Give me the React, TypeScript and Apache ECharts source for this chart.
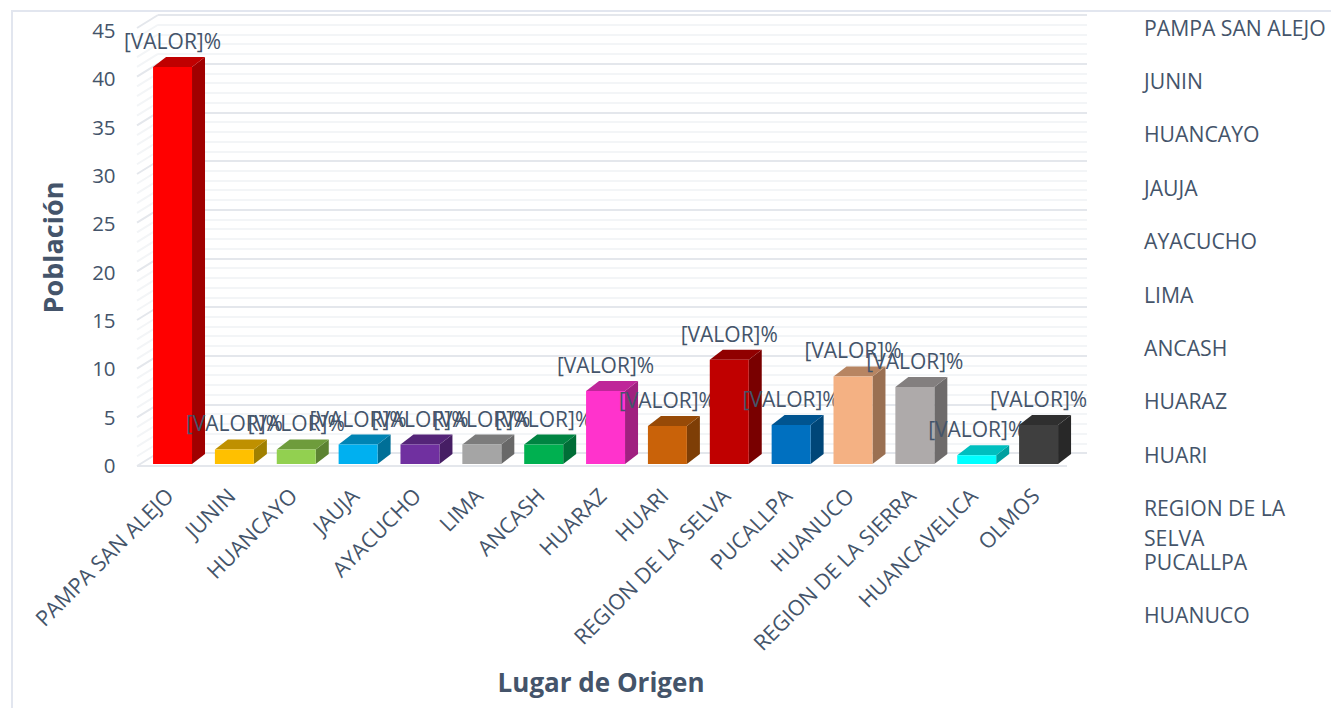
import React, { useEffect, useRef } from "react";
import * as echarts from "echarts";

const categories = ["PAMPA SAN ALEJO","JUNIN","HUANCAYO","JAUJA","AYACUCHO","LIMA","ANCASH","HUARAZ","HUARI","REGION DE LA SELVA","PUCALLPA","HUANUCO","REGION DE LA SIERRA","HUANCAVELICA","OLMOS"];
const values = [40.8,1.5,1.5,2,2,2,2,7.5,3.9,10.7,4,9,7.9,0.9,4];
const frontColors = ["#ff0000","#ffc000","#92d050","#00b0f0","#7030a0","#a5a5a5","#00b050","#ff33cc","#c96209","#c00000","#0070c0","#f4b183","#aeaaaa","#00ffff","#3f3f3f"];
const topColors = ["#c00000","#bf9000","#6e9c3c","#0084b4","#542478","#7c7c7c","#008442","#bf2699","#974a07","#900000","#005490","#b78562","#837f7f","#00bfbf","#2f2f2f"];
const sideColors = ["#a00000","#a08000","#5c8332","#006f97","#461e64","#686868","#006e37","#a02080","#7e3e06","#790000","#004678","#9a7052","#6e6b6b","#00a0a0","#282828"];
const valueLabel = "[VALOR]%";
const legendRows = [["PAMPA SAN ALEJO"],["JUNIN"],["HUANCAYO"],["JAUJA"],["AYACUCHO"],["LIMA"],["ANCASH"],["HUARAZ"],["HUARI"],["REGION DE LA","SELVA"],["PUCALLPA"],["HUANUCO"]];
const wallTicks = Array.from({ length: 46 }, (_, i) => i);

const FONT = '"Open Sans"';
const INK = "#44546a";
const MAJOR = "#e4e7ec";
const MINOR = "#f3f5f7";

function renderBar(_: any, api: any) {
  const i = api.value(0);
  const [cx, yTop] = api.coord([i, api.value(1)]);
  const [, yBase] = api.coord([i, 0]);
  const w = api.size([1, 0])[0] * 0.63;
  const l = cx - w / 2, r = cx + w / 2;
  const dx = 13, dy = 10;
  return {
    type: "group",
    children: [
      { type: "polygon", shape: { points: [[r, yTop], [r + dx, yTop - dy], [r + dx, yBase - dy], [r, yBase]] }, style: { fill: sideColors[i] } },
      { type: "polygon", shape: { points: [[l, yTop], [l + dx, yTop - dy], [r + dx, yTop - dy], [r, yTop]] }, style: { fill: topColors[i] } },
      { type: "rect", shape: { x: l, y: yTop, width: w, height: yBase - yTop }, style: { fill: frontColors[i] } },
      { type: "text", style: { text: valueLabel, x: cx, y: yTop - 26, align: "center", verticalAlign: "middle", fill: INK, fontSize: 21, fontFamily: FONT } },
    ],
  };
}

function renderWallLine(_: any, api: any) {
  const v = api.value(0);
  const [x, y] = api.coord([0, v]);
  return {
    type: "line",
    shape: { x1: x, y1: y, x2: x - 21, y2: y + 13 },
    style: { stroke: v % 5 === 0 ? MAJOR : MINOR, lineWidth: 2 },
  };
}

export default function App() {
  const ref = useRef<HTMLDivElement>(null);
  useEffect(() => {
    document.body.style.margin = "0";
    const chart = echarts.init(ref.current!, undefined, { renderer: "svg" });
    chart.setOption({
      animation: false,
      backgroundColor: "#ffffff",
      textStyle: { fontFamily: FONT },
      grid: [
        { left: 141.6, width: 927.9, top: 26, height: 438 },
        { left: 158, width: 929, top: 15, height: 438 },
        { left: 141.6, width: 927.9, top: 30, height: 435 },
      ],
      xAxis: [
        {
          type: "category", gridIndex: 0, data: categories,
          axisLine: { show: false }, axisTick: { show: false },
          axisLabel: { interval: 0, rotate: 45, margin: 24, fontSize: 21.5, color: INK, fontFamily: FONT, padding: [0, 5, 0, 0] },
          name: "Lugar de Origen", nameLocation: "middle", nameGap: 205,
          nameTextStyle: { fontSize: 26, fontWeight: "bold", color: INK, fontFamily: FONT, padding: [0, 9, 0, 0] },
        },
        { type: "value", gridIndex: 1, min: 0, max: 1, show: false },
        { type: "value", gridIndex: 2, min: 0, max: 1, show: false },
      ],
      yAxis: [
        { type: "value", gridIndex: 0, min: 0, max: 45, interval: 5, show: false },
        {
          type: "value", gridIndex: 1, min: 0, max: 45, interval: 5,
          axisLine: { show: false }, axisTick: { show: false }, axisLabel: { show: false },
          splitLine: { show: true, lineStyle: { color: MAJOR, width: 2 } },
          minorTick: { show: false, splitNumber: 5 },
          minorSplitLine: { show: true, lineStyle: { color: MINOR, width: 2 } },
        },
        {
          type: "value", gridIndex: 2, min: 0, max: 45, interval: 5,
          axisLine: { show: false }, axisTick: { show: false }, splitLine: { show: false },
          axisLabel: { margin: 26, fontSize: 20.5, color: INK, fontFamily: FONT },
          name: "Población", nameLocation: "middle", nameGap: 76,
          nameTextStyle: { fontSize: 27, fontWeight: "bold", color: INK, fontFamily: FONT },
        },
      ],
      series: [
        {
          type: "custom", xAxisIndex: 1, yAxisIndex: 1, clip: false, silent: true, z: 1,
          renderItem: renderWallLine, data: wallTicks.map((t) => [t]), encode: { y: 0 },
        },
        {
          type: "custom", xAxisIndex: 0, yAxisIndex: 0, clip: false, silent: true, z: 3,
          renderItem: renderBar, data: values.map((v, i) => [i, v]), encode: { x: 0, y: 1 },
        },
      ],
      graphic: [
        { type: "polyline", silent: true, z: -1, shape: { points: [[12, 708], [12, 11], [1331, 11]] }, style: { stroke: "#e2e6ef", lineWidth: 2, fill: "none" } },
        { type: "line", silent: true, z: -1, shape: { x1: 137, y1: 466, x2: 1067, y2: 466 }, style: { stroke: MAJOR, lineWidth: 2 } },
        ...legendRows.flatMap((row, i) =>
          row.map((text, j) => ({
            type: "text", silent: true, x: 1144, y: 27 + 53.4 * i + 30 * j,
            style: { text, fill: INK, fontSize: 21.2, fontFamily: FONT, align: "left", verticalAlign: "middle" },
          }))
        ),
      ],
    });
    return () => chart.dispose();
  }, []);
  return <div ref={ref} style={{ position: "fixed", left: 0, top: 0, width: 1331, height: 708 }} />;
}
